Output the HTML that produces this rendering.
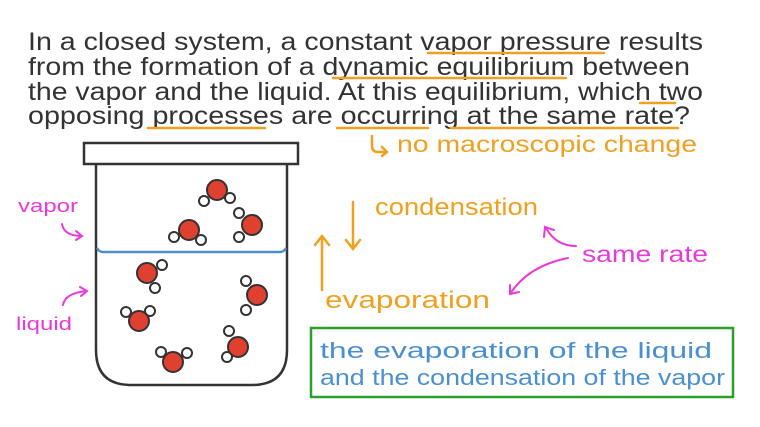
<!DOCTYPE html><html><head><style>body{margin:0;background:#fff}svg{display:block}text{font-family:"Liberation Sans",sans-serif}</style></head><body>
<svg width="760" height="427" viewBox="0 0 760 427" xmlns="http://www.w3.org/2000/svg">
<g fill="#333" font-size="25">
<text x="28" y="50" textLength="675" lengthAdjust="spacingAndGlyphs">In a closed system, a constant vapor pressure results</text>
<text x="28" y="75" textLength="662" lengthAdjust="spacingAndGlyphs">from the formation of a dynamic equilibrium between</text>
<text x="28" y="100" textLength="675" lengthAdjust="spacingAndGlyphs">the vapor and the liquid. At this equilibrium, which two</text>
<text x="28" y="124" textLength="662" lengthAdjust="spacingAndGlyphs">opposing processes are occurring at the same rate?</text>
</g>
<g stroke="#f0a020" stroke-width="2.5" fill="none" stroke-linecap="round">
<path d="M428 53H604M333 78H566M640 103H675M148 128H265M337 128H428M451 128H678"/>
<path d="M372 136v10q0 6 6 6h8M382 147l5 5-5 4"/>
<path d="M353 202v46M346 240l7 9 7-9M322 290v-54M315 245l7-9 7 9"/>
</g>
<text x="397" y="152" fill="#f0a020" font-size="23" textLength="300" lengthAdjust="spacingAndGlyphs">no macroscopic change</text>
<text x="375" y="215" fill="#f0a020" font-size="24" textLength="163" lengthAdjust="spacingAndGlyphs">condensation</text>
<text x="325" y="308" fill="#f0a020" font-size="24" textLength="165" lengthAdjust="spacingAndGlyphs">evaporation</text>
<text x="582" y="262" fill="#e83ad8" font-size="23" textLength="126" lengthAdjust="spacingAndGlyphs">same rate</text>
<text x="18" y="212" fill="#e83ad8" font-size="18" textLength="60" lengthAdjust="spacingAndGlyphs">vapor</text>
<text x="16" y="330" fill="#e83ad8" font-size="18" textLength="56" lengthAdjust="spacingAndGlyphs">liquid</text>
<g stroke="#e83ad8" stroke-width="2" fill="none" stroke-linecap="round">
<path d="M62 224q2 12 20 12M76 231l6 5-6 4"/>
<path d="M63 305q2-12 24-14M80 287l7 4-6 5"/>
<path d="M576 246q-20 0-30-18M544 237l1-10 9 3"/>
<path d="M568 258q-40 8-58 36M510 285l0 9 9-2"/>
</g>
<rect x="311" y="328" width="422" height="69" fill="none" stroke="#2ca02c" stroke-width="2.5"/>
<g fill="#4a90d0" font-size="22">
<text x="320" y="358" textLength="392" lengthAdjust="spacingAndGlyphs">the evaporation of the liquid</text>
<text x="320" y="385" textLength="405" lengthAdjust="spacingAndGlyphs">and the condensation of the vapor</text>
</g>
<rect x="84" y="143" width="214" height="21" fill="#fff" stroke="#333" stroke-width="2.5"/>
<path d="M96 165V350q0 35 35 35H252q35 0 35-35V165" fill="none" stroke="#333" stroke-width="2.5"/>
<path d="M97 248q2 4 6 4H280q4 0 6-4" fill="none" stroke="#4a90d0" stroke-width="2.5"/>
<g stroke="#333" stroke-width="2" fill="#fff">
<circle cx="204" cy="201" r="5"/><circle cx="230" cy="198" r="5"/>
<circle cx="174" cy="237" r="5"/><circle cx="201" cy="240" r="5"/>
<circle cx="239" cy="213" r="5"/><circle cx="239" cy="237" r="5"/>
<circle cx="162" cy="265" r="5"/><circle cx="155" cy="288" r="5"/>
<circle cx="246" cy="281" r="5"/><circle cx="246" cy="310" r="5"/>
<circle cx="126" cy="312" r="5"/><circle cx="150" cy="311" r="5"/>
<circle cx="229" cy="331" r="5"/><circle cx="227" cy="357" r="5"/>
<circle cx="161" cy="352" r="5"/><circle cx="187" cy="353" r="5"/>
</g>
<g stroke="#333" stroke-width="2" fill="#e04030">
<circle cx="217" cy="190" r="10"/><circle cx="189" cy="230" r="10"/><circle cx="252" cy="225" r="10"/>
<circle cx="147" cy="273" r="10"/><circle cx="257" cy="295" r="10"/><circle cx="139" cy="321" r="10"/>
<circle cx="238" cy="347" r="10"/><circle cx="173" cy="362" r="10"/>
</g>
</svg></body></html>
